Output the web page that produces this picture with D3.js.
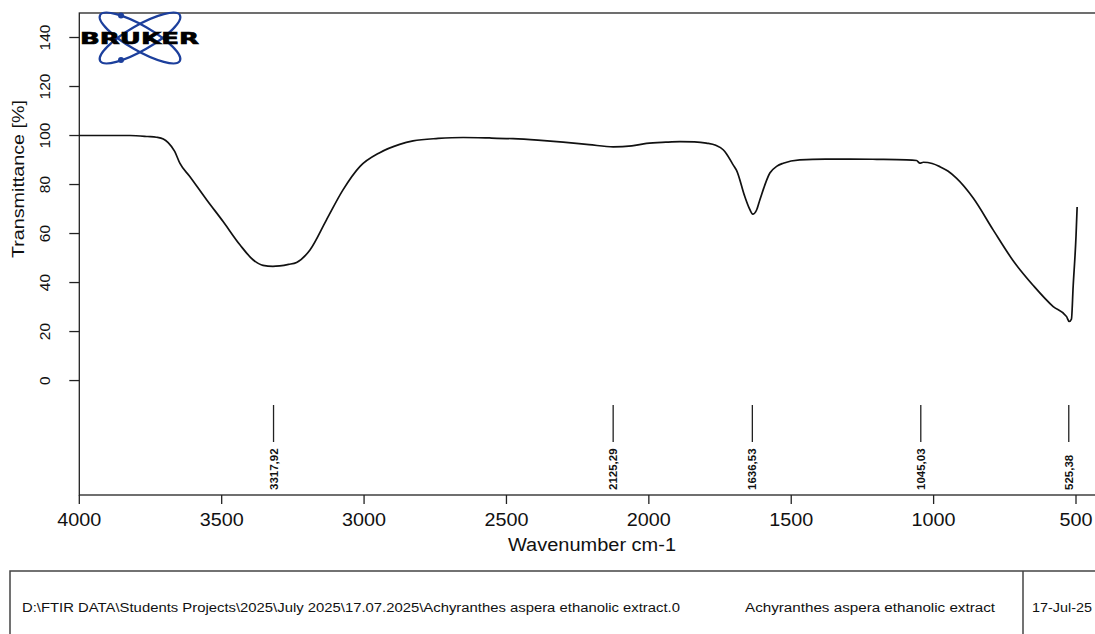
<!DOCTYPE html>
<html>
<head>
<meta charset="utf-8">
<script src="https://cdn.jsdelivr.net/npm/d3@7"></script>
<style>
  html, body { margin: 0; padding: 0; background: #fff; }
  svg { display: block; font-family: "Liberation Sans", Arial, sans-serif; }
</style>
</head>
<body>
<div id="chart"></div>
<script>
// Spectrum (wavenumber cm-1, transmittance %)
const wavenumbers = [4000, 3900, 3822, 3760, 3729, 3705, 3688, 3665, 3647, 3612, 3553, 3495, 3436, 3390,
    3355, 3320, 3296, 3265, 3237, 3190, 3132, 3074, 3015, 2945, 2875, 2828, 2740, 2652, 2560, 2477, 2390,
    2301, 2210, 2125, 2060, 2008, 1940, 1891, 1840, 1798, 1765, 1739, 1727, 1704, 1692, 1663, 1648, 1635,
    1622, 1610, 1575, 1550, 1528, 1470, 1380, 1294, 1200, 1095, 1060, 1048, 1036, 1005, 978, 950, 920,
    861, 791, 720, 650, 580, 533, 524, 516, 510, 500, 496];
const transmittance = [100.0, 100.0, 100.0, 99.6, 99.3, 98.6, 97.1, 93.5, 88.7, 83.3, 73.8, 64.9, 55.4, 49.3,
    47.0, 46.6, 46.8, 47.4, 48.2, 53.3, 65.6, 77.8, 87.3, 93.0, 96.4, 97.8, 98.8, 99.2, 99.0, 98.7, 98.1,
    97.3, 96.3, 95.4, 95.8, 96.8, 97.3, 97.5, 97.4, 96.9, 96.0, 94.2, 92.5, 88.0, 85.8, 75.1, 70.5, 67.9,
    69.5, 73.8, 84.7, 87.5, 88.7, 90.1, 90.4, 90.4, 90.3, 90.1, 89.8, 88.7, 89.1, 88.6, 87.3, 85.5, 82.6,
    74.5, 61.5, 48.8, 38.8, 30.2, 26.1, 24.1, 25.1, 38.4, 58.8, 70.8];

// Picked peaks
const peakPositions = [3317.92, 2125.29, 1636.53, 1045.03, 525.38];
const peakLabels = ["3317,92", "2125,29", "1636,53", "1045,03", "525,38"];

const xTicks = [4000, 3500, 3000, 2500, 2000, 1500, 1000, 500];
const yTicks = [0, 20, 40, 60, 80, 100, 120, 140];

const footerPath = "D:\\FTIR DATA\\Students Projects\\2025\\July 2025\\17.07.2025\\Achyranthes aspera ethanolic extract.0";
const footerSample = "Achyranthes aspera ethanolic extract";
const footerDate = "17-Jul-25";

const W = 1095, H = 634;
const plot = { left: 79.3, top: 13, right: 1100, bottom: 495 };

const svg = d3.select("#chart").append("svg")
    .attr("width", W)
    .attr("height", H);

const x = d3.scaleLinear().domain([4000, 500]).range([plot.left, 1076]);
const y = d3.scaleLinear().domain([-46.7, 150]).range([plot.bottom, plot.top]);

// plot frame (right edge runs off the page)
svg.append("rect")
    .attr("x", plot.left).attr("y", plot.top)
    .attr("width", plot.right - plot.left).attr("height", plot.bottom - plot.top)
    .attr("fill", "none").attr("stroke", "#222").attr("stroke-width", 1.3);

// y axis
const yAxis = svg.append("g").attr("transform", `translate(${plot.left},0)`);
yAxis.selectAll("line.tick").data(yTicks).enter().append("line")
    .attr("class", "tick")
    .attr("x1", -10).attr("x2", 0)
    .attr("y1", d => y(d)).attr("y2", d => y(d))
    .attr("stroke", "#222").attr("stroke-width", 1.3);
yAxis.selectAll("text").data(yTicks).enter().append("text")
    .attr("transform", d => `translate(-34.5,${y(d)}) rotate(-90)`)
    .attr("text-anchor", "middle")
    .attr("dy", "0.36em")
    .style("font-size", "15.5px")
    .attr("fill", "#111")
    .text(d => d);

svg.append("text")
    .attr("transform", `translate(18,${(100 + 258) / 2}) rotate(-90)`)
    .attr("text-anchor", "middle")
    .attr("dy", "0.36em")
    .attr("textLength", 158)
    .attr("lengthAdjust", "spacingAndGlyphs")
    .style("font-size", "16.5px")
    .attr("fill", "#111")
    .text("Transmittance [%]");

// x axis
const xAxis = svg.append("g").attr("transform", `translate(0,${plot.bottom})`);
xAxis.selectAll("line").data(xTicks).enter().append("line")
    .attr("x1", d => x(d)).attr("x2", d => x(d))
    .attr("y1", 0).attr("y2", 9)
    .attr("stroke", "#222").attr("stroke-width", 1.3);
xAxis.selectAll("text").data(xTicks).enter().append("text")
    .attr("x", d => x(d))
    .attr("y", 31)
    .attr("text-anchor", "middle")
    .attr("textLength", d => String(d).length * 11)
    .attr("lengthAdjust", "spacingAndGlyphs")
    .style("font-size", "18px")
    .attr("fill", "#111")
    .text(d => d);

svg.append("text")
    .attr("x", 592)
    .attr("y", 551)
    .attr("text-anchor", "middle")
    .attr("textLength", 168)
    .attr("lengthAdjust", "spacingAndGlyphs")
    .style("font-size", "18px")
    .attr("fill", "#111")
    .text("Wavenumber cm-1");

// spectrum
const spectrum = wavenumbers.map((w, i) => ({ w: w, t: transmittance[i] }));
const line = d3.line()
    .x(d => x(d.w))
    .y(d => y(d.t))
    .curve(d3.curveMonotoneX);

svg.append("path")
    .datum(spectrum)
    .attr("d", line)
    .attr("fill", "none")
    .attr("stroke", "#111")
    .attr("stroke-width", 1.7)
    .attr("stroke-linejoin", "round");

// peak markers
const peaks = svg.append("g");
peaks.selectAll("line").data(peakPositions).enter().append("line")
    .attr("x1", d => x(d)).attr("x2", d => x(d))
    .attr("y1", 405).attr("y2", 442)
    .attr("stroke", "#222").attr("stroke-width", 1.3);
peaks.selectAll("text").data(peakPositions).enter().append("text")
    .attr("transform", d => `translate(${x(d)},490) rotate(-90)`)
    .attr("text-anchor", "start")
    .attr("dy", "0.36em")
    .style("font-size", "11.5px")
    .style("font-weight", "bold")
    .attr("fill", "#111")
    .text((d, i) => peakLabels[i]);

// Bruker logo
const logo = svg.append("g");
[30, -30].forEach(a => {
    logo.append("ellipse")
        .attr("cx", 140).attr("cy", 38)
        .attr("rx", 46).attr("ry", 12.5)
        .attr("transform", `rotate(${a},140,38)`)
        .attr("fill", "none")
        .attr("stroke", "#1c3f9c")
        .attr("stroke-width", 2.2);
});
[[121, 15.5], [121, 60]].forEach(p => {
    logo.append("circle").attr("cx", p[0]).attr("cy", p[1]).attr("r", 3).attr("fill", "#1c3f9c");
});
logo.append("text")
    .attr("x", 80).attr("y", 43.5)
    .attr("textLength", 119)
    .attr("lengthAdjust", "spacingAndGlyphs")
    .style("font-size", "15px")
    .style("font-weight", "900")
    .style("font-family", "'DejaVu Sans', sans-serif")
    .attr("fill", "#000")
    .attr("stroke", "#000")
    .attr("stroke-width", 0.6)
    .text("BRUKER");

// footer box
const footer = svg.append("g");
footer.append("rect")
    .attr("x", 10).attr("y", 571)
    .attr("width", 1100).attr("height", 80)
    .attr("fill", "none").attr("stroke", "#444").attr("stroke-width", 1.5);
footer.append("line")
    .attr("x1", 1023).attr("x2", 1023)
    .attr("y1", 571).attr("y2", 640)
    .attr("stroke", "#444").attr("stroke-width", 1.5);
const footerText = [
    { s: footerPath, x: 22, len: 658 },
    { s: footerSample, x: 745, len: 250 },
    { s: footerDate, x: 1032, len: 60 }
];
footer.selectAll("text").data(footerText).enter().append("text")
    .attr("x", d => d.x).attr("y", 612)
    .attr("textLength", d => d.len)
    .attr("lengthAdjust", "spacingAndGlyphs")
    .style("font-size", "12.5px")
    .attr("fill", "#111")
    .text(d => d.s);
</script>
</body>
</html>
